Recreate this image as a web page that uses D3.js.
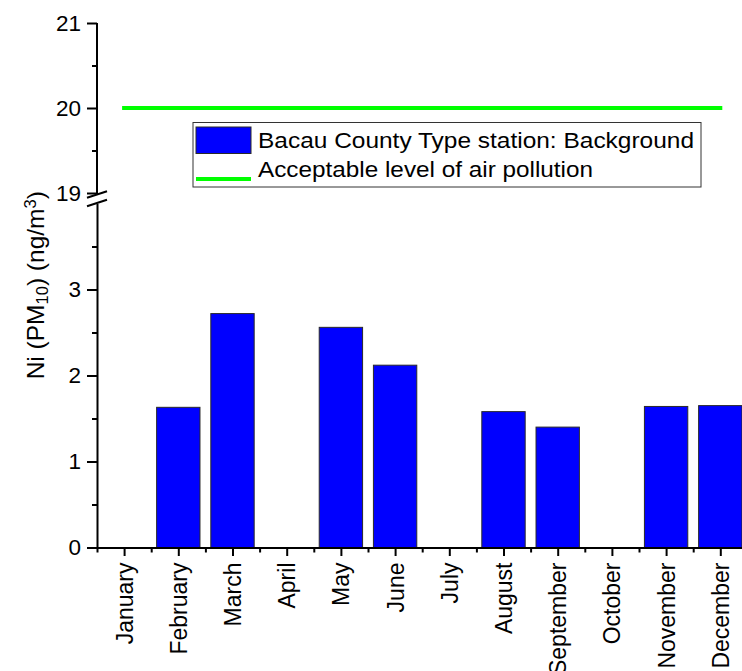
<!DOCTYPE html>
<html>
<head>
<meta charset="utf-8">
<script src="https://cdn.jsdelivr.net/npm/d3@7"></script>
<style>
  html, body { margin: 0; padding: 0; background: #fff; }
  svg { display: block; font-family: "Liberation Sans", Arial, sans-serif; }
</style>
</head>
<body>
<svg id="chart" width="742" height="671"></svg>
<script>
// Monthly Ni concentration in PM10, Bacau County background station
const months = ["January", "February", "March", "April", "May", "June",
                "July", "August", "September", "October", "November", "December"];
const niValues = [null, 1.63, 2.72, null, 2.56, 2.12, null, 1.58, 1.40, null, 1.64, 1.65];
const limitValue = 20;

const lowerTickValues = [0, 1, 2, 3];
const lowerMinorTicks = [0.5, 1.5, 2.5, 3.5];
const upperTickValues = [19, 20, 21];
const upperMinorTicks = [19.5, 20.5];

const seriesLabel = "Bacau County Type station: Background";
const limitLabel = "Acceptable level of air pollution";

const svg = d3.select("#chart");
const fontFamily = "'Liberation Sans', Arial, sans-serif";

const axisX = 97;
const x = d3.scaleLinear().domain([0.5, 12.5]).range([axisX, axisX + 650.4]);
const step = x(2) - x(1);

// broken y axis: lower segment 0-4, upper segment 19-21
const yLower = d3.scaleLinear().domain([0, 4]).range([547.5, 203.5]);
const yUpper = d3.scaleLinear().domain([19, 21]).range([193, 23]);

const axisStroke = 2;

// bars
svg.append("g")
  .selectAll("rect")
  .data(niValues.map((v, i) => ({ v, i })).filter(d => d.v !== null))
  .join("rect")
  .attr("x", d => x(d.i + 1) - step * 0.4)
  .attr("width", step * 0.8)
  .attr("y", d => yLower(d.v))
  .attr("height", d => yLower(0) - yLower(d.v))
  .attr("fill", "#0000ff")
  .attr("stroke", "#2a2a2a")
  .attr("stroke-width", 1);

// limit line
svg.append("line")
  .attr("x1", x(1)).attr("x2", x(12))
  .attr("y1", yUpper(limitValue)).attr("y2", yUpper(limitValue))
  .attr("stroke", "#00ff00")
  .attr("stroke-width", 4)
  .attr("stroke-linecap", "square");

function styleAxis(size) {
  return g => {
    g.attr("font-family", null).attr("font-size", null);
    g.selectAll("path, line").attr("stroke", "#000").attr("stroke-width", axisStroke);
    g.selectAll("text").attr("fill", "#000").style("font-size", size + "px")
      .style("font-family", fontFamily);
  };
}

// lower y axis
const gLower = svg.append("g").attr("transform", `translate(${axisX},0)`)
  .call(d3.axisLeft(yLower).tickValues(lowerTickValues).tickSize(10).tickSizeOuter(0)
    .tickPadding(6).tickFormat(d3.format("d")));
gLower.call(styleAxis(22.5));
const gLowerMinor = svg.append("g").attr("transform", `translate(${axisX},0)`)
  .call(d3.axisLeft(yLower).tickValues(lowerMinorTicks).tickSize(5).tickSizeOuter(0).tickFormat(""));
gLowerMinor.call(styleAxis(22.5));
gLowerMinor.select(".domain").remove();

// upper y axis
const gUpper = svg.append("g").attr("transform", `translate(${axisX},0)`)
  .call(d3.axisLeft(yUpper).tickValues(upperTickValues).tickSize(10).tickSizeOuter(0)
    .tickPadding(6).tickFormat(d3.format("d")));
gUpper.call(styleAxis(22.5));
gUpper.select(".domain").attr("d", `M0,${yUpper(21)}V${yUpper(19) + 2}`);
const gUpperMinor = svg.append("g").attr("transform", `translate(${axisX},0)`)
  .call(d3.axisLeft(yUpper).tickValues(upperMinorTicks).tickSize(5).tickSizeOuter(0).tickFormat(""));
gUpperMinor.call(styleAxis(22.5));
gUpperMinor.select(".domain").remove();

// break marks
const breakG = svg.append("g").attr("stroke", "#000").attr("stroke-width", 2);
[yUpper(19) + 1.5, yLower(4) - 0.5].forEach(cy => {
  breakG.append("line")
    .attr("x1", axisX - 10).attr("y1", cy + 3.2)
    .attr("x2", axisX + 10).attr("y2", cy - 3.2);
});

// x axis
const gx = svg.append("g").attr("transform", `translate(0,${yLower(0)})`)
  .call(d3.axisBottom(x).tickValues(d3.range(1, 13)).tickSize(8.5).tickSizeOuter(0)
    .tickPadding(7).tickFormat(d => months[d - 1]));
gx.call(styleAxis(23));
gx.selectAll("text")
  .attr("transform", "rotate(-90)")
  .attr("text-anchor", "end")
  .attr("x", -15)
  .attr("y", 0)
  .attr("dy", "0.35em");
const gxMinor = svg.append("g").attr("transform", `translate(0,${yLower(0)})`)
  .call(d3.axisBottom(x).tickValues(d3.range(0.5, 13, 1)).tickSize(5).tickSizeOuter(0).tickFormat(""));
gxMinor.call(styleAxis(23));
gxMinor.select(".domain").remove();

// y axis title
const title = svg.append("text")
  .attr("transform", `translate(43.5,${(yUpper(21) + yLower(0)) / 2}) rotate(-90)`)
  .attr("text-anchor", "middle")
  .style("font-size", "24.5px")
  .attr("fill", "#000");
title.append("tspan").text("Ni (PM");
title.append("tspan").attr("baseline-shift", "-25%").style("font-size", "16.5px").text("10");
title.append("tspan").text(") (ng/m");
title.append("tspan").attr("baseline-shift", "45%").style("font-size", "16.5px").text("3");
title.append("tspan").text(")");

// legend
const legend = svg.append("g");
legend.append("rect")
  .attr("x", 193).attr("y", 122.5).attr("width", 508).attr("height", 64.5)
  .attr("fill", "#fff").attr("stroke", "#333").attr("stroke-width", 1);
legend.append("rect")
  .attr("x", 196).attr("y", 127).attr("width", 55).attr("height", 26.5)
  .attr("fill", "#0000ff").attr("stroke", "#2a2a2a").attr("stroke-width", 1);
legend.append("line")
  .attr("x1", 196).attr("x2", 251).attr("y1", 179).attr("y2", 179)
  .attr("stroke", "#00ff00").attr("stroke-width", 4);
legend.append("text")
  .attr("x", 258).attr("y", 147.5)
  .attr("textLength", 436).attr("lengthAdjust", "spacingAndGlyphs")
  .style("font-size", "22.5px").attr("fill", "#000")
  .text(seriesLabel);
legend.append("text")
  .attr("x", 258).attr("y", 177)
  .attr("textLength", 335).attr("lengthAdjust", "spacingAndGlyphs")
  .style("font-size", "22.5px").attr("fill", "#000")
  .text(limitLabel);
</script>
</body>
</html>
